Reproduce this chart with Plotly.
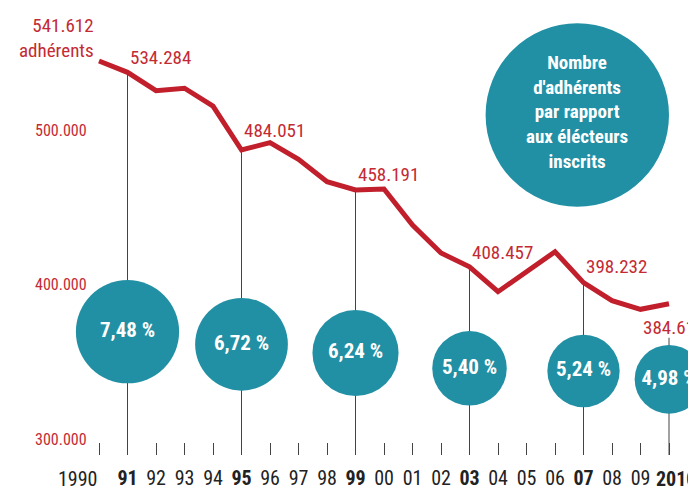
import plotly.graph_objects as go

# ---------------- data ----------------
years = list(range(1990, 2011))
members = [541612, 534284, 522400, 524000, 512500, 484051, 488800, 478000,
           463500, 458191, 458800, 435500, 417400, 408457, 392400, 405300,
           418250, 398232, 386600, 381000, 384611]
tick_text = ["", "<b>91</b>", "92", "93", "94", "<b>95</b>", "96", "97", "98",
             "<b>99</b>", "00", "01", "02", "<b>03</b>", "04", "05", "06",
             "<b>07</b>", "08", "09", ""]
first_tick, last_tick = "1990", "<b>2010</b>"
key_years = [1991, 1995, 1999, 2003, 2007, 2010]
key_labels = ["534.284", "484.051", "458.191", "408.457", "398.232", "384.611"]
pct_values = [7.48, 6.72, 6.24, 5.40, 5.24, 4.98]
pct_labels = ["7,48 %", "6,72 %", "6,24 %", "5,40 %", "5,24 %", "4,98 %"]
y_ticks = [300000, 400000, 500000]
y_tick_text = ["300.000", "400.000", "500.000"]

# ---------------- layout constants ----------------
bubble_level = [366500, 358400, 352750, 342850, 341100, 335750]
label_yshift = [1, 6, 2, 1, 3, -10]
W, H = 688, 483          # page has an 8px body margin
MB = 36
PH = H - MB
YMIN, YMAX = 286768, 575901
RED = "#c01f2b"
RED_TXT = "#c42a34"
TEAL = "#2290a4"
FONT = "Liberation Sans Narrow, Roboto Condensed, Arial Narrow, Roboto, sans-serif"

val = dict(zip(years, members))

fig = go.Figure()

# stems
for i, yr in enumerate(key_years):
    top = val[yr] if yr != 2010 else val[yr] - 22000
    fig.add_trace(go.Scatter(x=[yr, yr], y=[top, YMIN], mode="lines",
                             line=dict(color="#444444", width=1),
                             hoverinfo="skip", showlegend=False))

# red line
fig.add_trace(go.Scatter(x=years, y=members, mode="lines",
                         line=dict(color=RED, width=5),
                         showlegend=False))

# bubbles
fig.add_trace(go.Scatter(x=key_years, y=bubble_level, mode="markers+text",
                         marker=dict(size=[p * 13.8 for p in pct_values],
                                     color=TEAL, line=dict(width=0), opacity=1),
                         text=["<b>%s</b>" % t for t in pct_labels],
                         textposition="middle center",
                         textfont=dict(family=FONT, size=21, color="white"),
                         cliponaxis=False, showlegend=False))

annotations = []
# first value label
annotations.append(dict(x=1990, y=members[0], xref="x", yref="y",
                        text="541.612<br>adhérents", showarrow=False,
                        xanchor="right", yanchor="bottom", align="right",
                        xshift=-3, yshift=-3,
                        font=dict(family=FONT, size=19, color=RED_TXT)))
for i, yr in enumerate(key_years):
    last = yr == 2010
    annotations.append(dict(x=yr, y=val[yr], xref="x", yref="y",
                            text=key_labels[i], showarrow=False,
                            xanchor="left", yanchor="top" if last else "bottom",
                            xshift=-28 if last else 0, yshift=label_yshift[i],
                            font=dict(family=FONT, size=19, color=RED_TXT)))
# y labels
for v, t in zip(y_ticks, y_tick_text):
    annotations.append(dict(x=0, y=v, xref="paper", yref="y", text=t,
                            showarrow=False, xanchor="left", yanchor="middle",
                            xshift=25, yshift=-5,
                            font=dict(family=FONT, size=16, color=RED_TXT)))
# end tick labels
annotations.append(dict(x=1990, y=0, xref="x", yref="paper", text=first_tick,
                        showarrow=False, xanchor="right", yanchor="middle",
                        xshift=1, yshift=-24,
                        font=dict(family=FONT, size=20, color="#222222")))
annotations.append(dict(x=2010, y=0, xref="x", yref="paper", text=last_tick,
                        showarrow=False, xanchor="left", yanchor="middle",
                        xshift=-15, yshift=-24,
                        font=dict(family=FONT, size=20, color="#222222")))
# key circle text
annotations.append(dict(x=569 / W, y=1 - 104 / PH, xref="paper", yref="paper",
                        text="<b>Nombre<br>d'adhérents<br>par rapport<br>aux élécteurs<br>inscrits</b>",
                        showarrow=False, align="center",
                        xanchor="center", yanchor="middle",
                        font=dict(family=FONT, size=19, color="white")))

fig.add_shape(type="circle", xref="paper", yref="paper",
              x0=477.6 / W, x1=661 / W,
              y0=1 - 198.7 / PH, y1=1 - 15.3 / PH,
              fillcolor=TEAL, line=dict(width=0), layer="below")

fig.update_layout(
    width=W, height=H,
    margin=dict(l=0, r=0, t=0, b=MB, autoexpand=False),
    paper_bgcolor="white", plot_bgcolor="white",
    annotations=annotations,
    xaxis=dict(range=[1986.807, 2010.947], tickvals=years, ticktext=tick_text,
               ticks="inside", ticklen=12, tickcolor="#444444", tickwidth=1,
               tickangle=0, automargin=False,
               showgrid=False, zeroline=False, showline=False,
               tickfont=dict(family=FONT, size=20, color="#222222"),
               ticklabelstandoff=9, fixedrange=True),
    yaxis=dict(range=[YMIN, YMAX], showticklabels=False, showgrid=False,
               automargin=False,
               zeroline=False, showline=False, fixedrange=True),
    showlegend=False,
)

fig.write_html("out.html")
